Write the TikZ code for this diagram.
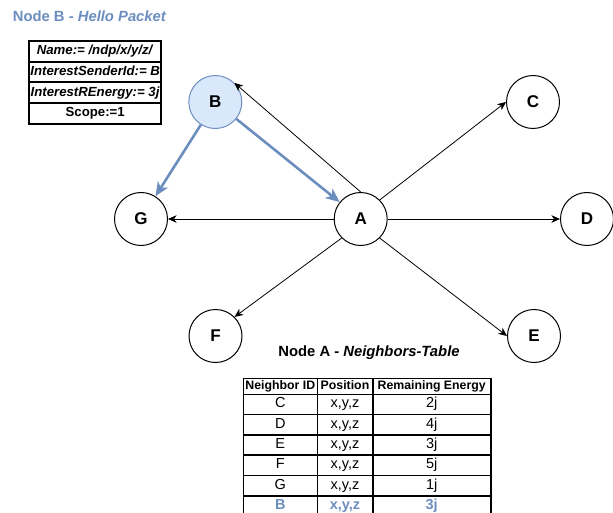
\documentclass[tikz,border=0pt]{standalone}
\usepackage{fontspec}
\setmainfont{Liberation Sans}
\usetikzlibrary{arrows.meta}
\definecolor{bluestroke}{HTML}{6C8EBF}
\definecolor{bluefill}{HTML}{DAE8FC}

\begin{document}
\begin{tikzpicture}[x=1pt,y=-1pt,
  nd/.style={circle,draw,line width=1pt,minimum size=53pt,inner sep=0pt,font=\fontsize{17}{20}\selectfont\bfseries},
  ar/.style={->,>={Stealth[length=8.5pt,width=7.5pt,inset=2.5pt]},line width=0.8pt},
  hl/.style={->,>={Stealth[length=14pt,width=12pt,inset=4pt]},line width=2.6pt,bluestroke},
  pkt/.style={draw,line width=2pt,minimum width=131.7pt,minimum height=20.7pt,inner sep=0pt,text height=9.5pt,text depth=2.5pt,font=\fontsize{13.2}{15}\selectfont\bfseries},
  cell/.style={draw,line width=1.6pt,inner sep=0pt,text height=10pt,text depth=3pt,font=\fontsize{14.5}{16}\selectfont},
  ttl/.style={font=\fontsize{14.8}{17}\selectfont\bfseries,inner sep=0pt}]
 \useasboundingbox (0,0) rectangle (613,513); %frame

 \node[nd] (A) at (360.7,219) {A};
 \node[nd,fill=bluefill,draw=bluestroke] (B) at (215.3,102) {B};
 \node[nd] (C) at (533,102) {C};
 \node[nd] (D) at (587,219) {D};
 \node[nd] (E) at (534,336) {E};
 \node[nd] (F) at (215.5,336) {F};
 \node[nd] (G) at (141,219) {G};

 \draw[ar] (A) -- (G);
 \draw[ar] (A) -- (D);
 \draw[ar] (A.north east) -- (C.west);
 \draw[ar] (A.south east) -- (E.west);
 \draw[ar] (A.south west) -- (F.north east);
 \draw[ar] (A.north) -- (B.north east);
 \draw[hl] (B) -- (A); %hello
 \draw[hl] (B) -- (G); %hello

 \node[ttl,text=bluestroke,anchor=west] (titleB) at (12.7,16) {Node B - \textit{Hello Packet}};
 \foreach \txt [count=\i] in {\textit{Name:= /ndp/x/y/z/},\textit{InterestSenderId:= B},\textit{InterestREnergy:= 3j},Scope:=1}
   \node[pkt] (pkt\i) at (95.2,30.65+20.7*\i) {\txt};

 \node[ttl] (titleA) at (369,352.7) {Node A - \textit{Neighbors-Table}};
 \begin{scope}[every node/.append style={cell,minimum height=16pt,text height=9pt,text depth=2pt,font=\fontsize{12.3}{14}\selectfont\bfseries}]
  \node[minimum width=74pt] (h1) at (280.3,386.3) {Neighbor ID};
  \node[minimum width=55.4pt] (h2) at (345,386.3) {Position};
  \node[minimum width=118pt] (h3) at (431.7,386.3) {Remaining Energy};
 \end{scope}
 \foreach \id/\en/\st [count=\r] in {C/2j/,D/4j/,E/3j/,F/5j/,G/1j/,B/3j/{\bfseries\color{bluestroke}}} {
   \node[cell,minimum width=74pt,minimum height=20.3pt] (id\r) at (280.3,384.15+20.3*\r) {\st\id};
   \node[cell,minimum width=55.4pt,minimum height=20.3pt] (pos\r) at (345,384.15+20.3*\r) {\st x,y,z};
   \node[cell,minimum width=118pt,minimum height=20.3pt] (en\r) at (431.7,384.15+20.3*\r) {\st\en};
 }
\end{tikzpicture}
\end{document}
